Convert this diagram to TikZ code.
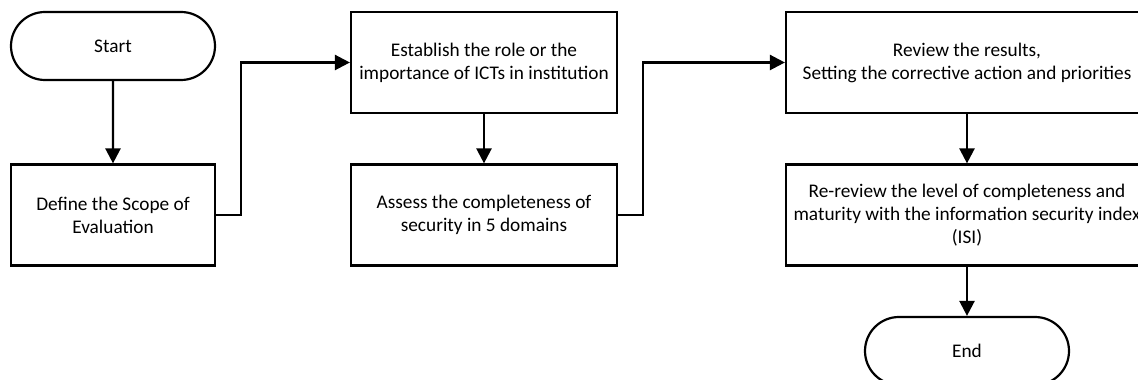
\documentclass[tikz,border=0pt]{standalone}
\usepackage{fontspec}
\setmainfont{Carlito}
\usetikzlibrary{arrows.meta,shapes.misc}

\begin{document}
\begin{tikzpicture}[x=1pt,y=1pt,
		every node/.style={font=\fontsize{19.3}{23}\selectfont, align=center, inner sep=0pt},
		stepbox/.style={draw, line width=2.2pt, rectangle, minimum height=101},
		endbox/.style={draw, line width=2.2pt, rounded rectangle, minimum width=204, minimum height=68},
		flow/.style={line width=2.4pt, -{Triangle[length=15pt,width=15pt]}}]
		\useasboundingbox (0, 0) rectangle (1138, 380);

		\node[endbox] (start) at (113, 334) {Start};
		\node[stepbox, minimum width=204] (scope) at (113, 165) {Define the Scope of\\Evaluation};
		\node[stepbox, minimum width=266] (role) at (484, 317.5) {Establish the role or the\\importance of ICTs in institution};
		\node[stepbox, minimum width=266] (assess) at (484, 165) {Assess the completeness of\\security in 5 domains};
		\node[stepbox, minimum width=362] (review) at (967, 317.5) {Review the results,\\Setting the corrective action and priorities};
		\node[stepbox, minimum width=362] (rereview) at (967, 165) {Re-review the level of completeness and\\maturity with the information security index\\(ISI)};
		\node[endbox] (end) at (967, 29) {End};

		\draw [flow] (start) -- (scope);
		\draw [flow] (scope.east) -- ++(25, 0) |- (role.west);
		\draw [flow] (role) -- (assess);
		\draw [flow] (assess.east) -- ++(25, 0) |- (review.west);
		\draw [flow] (review) -- (rereview);
		\draw [flow] (rereview) -- (end);
	\end{tikzpicture}
\end{document}
